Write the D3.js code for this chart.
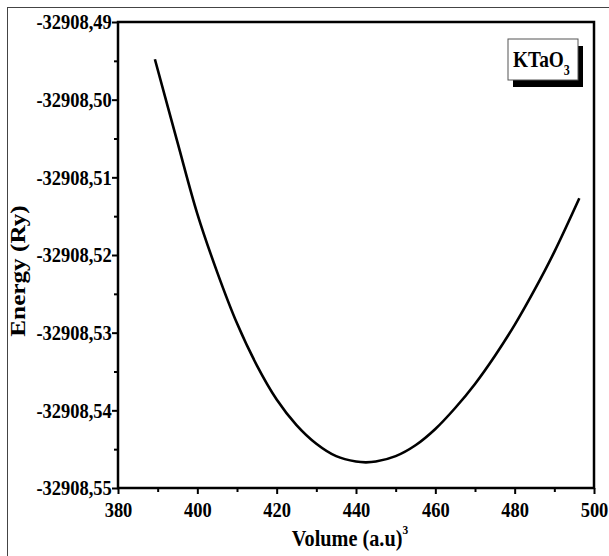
<!DOCTYPE html>
<html>
<head>
<meta charset="utf-8">
<script src="https://cdn.jsdelivr.net/npm/d3@7"></script>
<style>
  body { margin: 0; background: #fff; }
  svg { display: block; }
  text { font-family: "Liberation Serif", "Times New Roman", serif; font-weight: bold; }
</style>
</head>
<body>
<div class="container"></div>
<script>
var width = 609,
    height = 556,
    margin = {top: 22, right: 15, bottom: 68, left: 118};

// E(V) curve
var volume = [389.3, 395, 400, 405, 410, 415, 420, 425, 430, 435, 440, 442.5,
              445, 450, 455, 460, 465, 470, 475, 480, 485, 490, 496.3];
var energy = [-32908.4948, -32908.5055, -32908.5147, -32908.5222, -32908.5288,
              -32908.5342, -32908.5386, -32908.5419, -32908.5443, -32908.5459,
              -32908.5466, -32908.5467, -32908.5466, -32908.5459, -32908.5445,
              -32908.5424, -32908.5397, -32908.5366, -32908.5330, -32908.5290,
              -32908.5245, -32908.5196, -32908.5127];

var xTicks = [380, 400, 420, 440, 460, 480, 500];
var xMinor = [390, 410, 430, 450, 470, 490];
var yTicks = [-32908.49, -32908.50, -32908.51, -32908.52, -32908.53, -32908.54, -32908.55];
var yMinor = [-32908.495, -32908.505, -32908.515, -32908.525, -32908.535, -32908.545];

var xLabel = 'Volume (a.u)',
    yLabel = 'Energy (Ry)',
    legendText = 'KTaO';

var locale = d3.formatLocale({decimal: ',', thousands: '', grouping: [3], currency: ['', ''], minus: '-'});
var fmt = locale.format('.2f');

var svg = d3.select('.container').append('svg')
    .attr('width', width)
    .attr('height', height);

// outer frame of the figure
svg.append('rect')
    .attr('x', 7.5).attr('y', 7.5)
    .attr('width', width + 20).attr('height', height + 20)
    .attr('fill', 'none')
    .attr('stroke', '#444')
    .attr('stroke-width', 1);

var iw = width - margin.left - margin.right,
    ih = height - margin.top - margin.bottom;

var x = d3.scaleLinear().domain([380, 500]).range([0, iw]);
var y = d3.scaleLinear().domain([-32908.55, -32908.49]).range([ih, 0]);

var g = svg.append('g')
    .attr('transform', 'translate(' + margin.left + ',' + margin.top + ')');

// minor ticks
g.append('g')
    .attr('transform', 'translate(0,' + ih + ')')
    .call(d3.axisBottom(x).tickValues(xMinor).tickSize(4).tickFormat(''))
    .call(a => a.select('.domain').remove());
g.append('g')
    .call(d3.axisLeft(y).tickValues(yMinor).tickSize(4).tickFormat(''))
    .call(a => a.select('.domain').remove());

var xAxis = g.append('g')
    .attr('transform', 'translate(0,' + ih + ')')
    .call(d3.axisBottom(x).tickValues(xTicks).tickSize(6).tickSizeOuter(0).tickPadding(8));
var yAxis = g.append('g')
    .call(d3.axisLeft(y).tickValues(yTicks).tickFormat(fmt).tickSize(6).tickSizeOuter(0).tickPadding(1));

[xAxis, yAxis].forEach(a => {
    a.attr('font-family', null);
    a.selectAll('text').attr('font-size', 21).attr('fill', '#000')
        .attr('transform', 'scale(0.88,1)')
        .style('font-family', '"Liberation Serif", serif').style('font-weight', 'bold');
    a.selectAll('line').attr('stroke', '#000');
});
g.selectAll('.tick line').attr('stroke-width', 2);

// box around plot
g.append('rect')
    .attr('width', iw).attr('height', ih)
    .attr('fill', 'none')
    .attr('stroke', '#000')
    .attr('stroke-width', 2.5);

// curve
var pts = volume.map((v, i) => [v, energy[i]]);
g.append('path')
    .datum(pts)
    .attr('fill', 'none')
    .attr('stroke', '#000')
    .attr('stroke-width', 2.6)
    .attr('d', d3.line().x(d => x(d[0])).y(d => y(d[1])).curve(d3.curveCatmullRom));

// legend box with shadow
var lg = svg.append('g').attr('transform', 'translate(508,39)');
lg.append('rect').attr('x', 5).attr('y', 7).attr('width', 70).attr('height', 41).attr('fill', '#000');
lg.append('rect').attr('width', 70).attr('height', 41)
    .attr('fill', '#fff').attr('stroke', '#555').attr('stroke-width', 1);
var lt = lg.append('text').attr('transform', 'translate(5,28) scale(0.92,1.05)').attr('font-size', 21);
lt.append('tspan').text(legendText);
lt.append('tspan').attr('font-size', 13).attr('dy', 8).text('3');

// axis titles
var xt = svg.append('text')
    .attr('transform', 'translate(' + (margin.left + iw / 2 - 6) + ',546) scale(0.88,1)')
    .attr('text-anchor', 'middle')
    .attr('font-size', 23);
xt.append('tspan').text(xLabel);
xt.append('tspan').attr('font-size', 13).attr('dy', -12).text('3');

svg.append('text')
    .attr('transform', 'translate(25,' + (margin.top + ih / 2 + 16) + ') rotate(-90) scale(1.2,1)')
    .attr('text-anchor', 'middle')
    .attr('font-size', 21)
    .text(yLabel);
</script>
</body>
</html>
